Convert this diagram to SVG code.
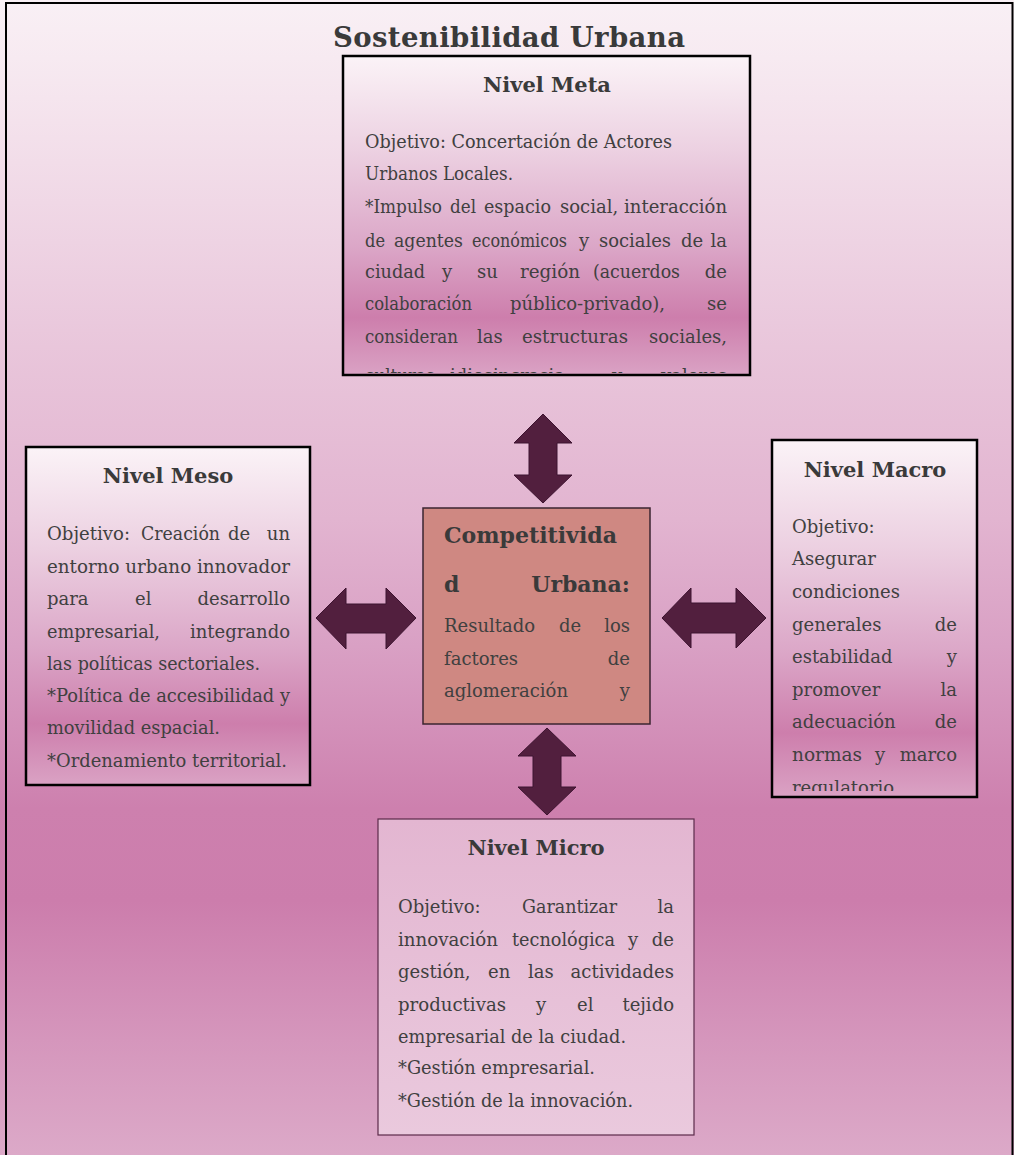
<svg xmlns="http://www.w3.org/2000/svg" width="1014" height="1155" viewBox="0 0 1014 1155">
  <defs>
    <linearGradient id="bg" x1="0" y1="0" x2="0" y2="1">
      <stop offset="0" stop-color="#f9f0f5"/>
      <stop offset="0.05" stop-color="#f7eaf1"/>
      <stop offset="0.3" stop-color="#e9c6db"/>
      <stop offset="0.45" stop-color="#e2b4d0"/>
      <stop offset="0.56" stop-color="#d9a0c4"/>
      <stop offset="0.7" stop-color="#cd80ae"/>
      <stop offset="0.78" stop-color="#cc7dac"/>
      <stop offset="0.9" stop-color="#d596bc"/>
      <stop offset="1" stop-color="#dca9c8"/>
    </linearGradient>
    <linearGradient id="boxFill" x1="0" y1="0" x2="0" y2="1">
      <stop offset="0" stop-color="#fbf3f7"/>
      <stop offset="0.3" stop-color="#ecd0e1"/>
      <stop offset="0.6" stop-color="#dba6c7"/>
      <stop offset="0.82" stop-color="#cd7eac"/>
      <stop offset="1" stop-color="#daa2c4"/>
    </linearGradient>
    <linearGradient id="microFill" x1="0" y1="0" x2="0" y2="1">
      <stop offset="0" stop-color="#e3b6d1"/>
      <stop offset="1" stop-color="#eac9dd"/>
    </linearGradient>
    <clipPath id="clipMeta"><rect x="345" y="58" width="403" height="315"/></clipPath>
    <clipPath id="clipMacro"><rect x="774" y="442" width="201" height="349"/></clipPath>
  </defs>
  <style>
    text { font-family: "DejaVu Serif", "Liberation Serif", serif; fill: #404040; }
    .title { font-size: 27.5px; font-weight: bold; fill: #3a3a3a; }
    .head { font-size: 21px; font-weight: bold; fill: #3a3a3a; text-anchor: middle; }
    .bhead { font-size: 22px; font-weight: bold; fill: #3a3a3a; }
    .body { font-size: 18px; }
    .end { text-anchor: end; }
    .frame { fill: none; stroke: #000; stroke-width: 2; }
    .box { fill: url(#boxFill); stroke: #000; stroke-width: 2.5; }
    .arrow { fill: #521f3e; stroke: #3d1430; stroke-width: 1; }
  </style>

  <!-- page background and outer frame -->
  <rect x="0" y="0" width="1014" height="1155" fill="url(#bg)"/>
  <path class="frame" d="M6,1155 V3 H1012.5 V1155"/>

  <g id="title">
    <text class="title" x="509" y="47" text-anchor="middle" textLength="352">Sostenibilidad Urbana</text>
  </g>

  <!-- double-headed arrows between the centre and each level -->
  <g id="connectors">
    <polygon class="arrow" points="543,414 572,443 557,443 557,475 572,475 543,503 514,475 529,475 529,443 514,443"/>
    <polygon class="arrow" points="547,728 576,756 561,756 561,787 576,787 547,815 518,787 533,787 533,756 518,756"/>
    <polygon class="arrow" points="316,618 346,588 346,604 386,604 386,588 416,618 386,649 386,633 346,633 346,649"/>
    <polygon class="arrow" points="662,618 691,588 691,603 736,603 736,588 766,618 736,648 736,633 691,633 691,648"/>
  </g>

  <!-- justified lines: every word is placed and sized on its own -->
  <g id="node-meta">
    <rect class="box" x="343" y="56" width="407" height="319"/>
    <text class="head" x="547" y="92">Nivel Meta</text>
    <g class="body" clip-path="url(#clipMeta)">
      <text x="365" y="148" textLength="307" lengthAdjust="spacingAndGlyphs">Objetivo: Concertación de Actores</text>
      <text x="365" y="180" textLength="148" lengthAdjust="spacingAndGlyphs">Urbanos Locales.</text>
      <text x="365" y="213" textLength="77" lengthAdjust="spacingAndGlyphs">*Impulso</text>
      <text x="450" y="213" textLength="26" lengthAdjust="spacingAndGlyphs">del</text>
      <text x="484" y="213" textLength="67" lengthAdjust="spacingAndGlyphs">espacio</text>
      <text x="560" y="213">social,</text>
      <text class="end" x="727" y="213">interacción</text>
      <text x="365" y="247" textLength="20" lengthAdjust="spacingAndGlyphs">de</text>
      <text x="394" y="247" textLength="69" lengthAdjust="spacingAndGlyphs">agentes</text>
      <text x="472" y="247" textLength="95" lengthAdjust="spacingAndGlyphs">económicos</text>
      <text x="579" y="247">y</text>
      <text x="599" y="247" textLength="72" lengthAdjust="spacingAndGlyphs">sociales</text>
      <text x="681" y="247">de</text>
      <text class="end" x="727" y="247">la</text>
      <text x="365" y="278" textLength="60" lengthAdjust="spacingAndGlyphs">ciudad</text>
      <text x="442" y="278">y</text>
      <text x="477" y="278">su</text>
      <text x="520" y="278" textLength="60" lengthAdjust="spacingAndGlyphs">región</text>
      <text x="593" y="278" textLength="87" lengthAdjust="spacingAndGlyphs">(acuerdos</text>
      <text class="end" x="727" y="278">de</text>
      <text x="365" y="310" textLength="107" lengthAdjust="spacingAndGlyphs">colaboración</text>
      <text x="510" y="310">público-privado),</text>
      <text class="end" x="727" y="310">se</text>
      <text x="365" y="343" textLength="93" lengthAdjust="spacingAndGlyphs">consideran</text>
      <text x="477" y="343">las</text>
      <text x="522" y="343" textLength="106" lengthAdjust="spacingAndGlyphs">estructuras</text>
      <text class="end" x="727" y="343">sociales,</text>
      <text x="365" y="382" textLength="75" lengthAdjust="spacingAndGlyphs">culturas,</text>
      <text x="450" y="382" textLength="115" lengthAdjust="spacingAndGlyphs">idiosincrasia</text>
      <text x="612" y="382">y</text>
      <text class="end" x="727" y="382">valores</text>
    </g>
  </g>

  <g id="node-meso">
    <rect class="box" x="26" y="447" width="284" height="338"/>
    <text class="head" x="168" y="483">Nivel Meso</text>
    <g class="body">
      <text x="47" y="540" textLength="83" lengthAdjust="spacingAndGlyphs">Objetivo:</text>
      <text x="141" y="540" textLength="79" lengthAdjust="spacingAndGlyphs">Creación</text>
      <text x="228" y="540">de</text>
      <text class="end" x="290" y="540">un</text>
      <text x="47" y="573" textLength="243" lengthAdjust="spacingAndGlyphs">entorno urbano innovador</text>
      <text x="47" y="605">para</text>
      <text x="135" y="605">el</text>
      <text class="end" x="290" y="605">desarrollo</text>
      <text x="47" y="638" textLength="113" lengthAdjust="spacingAndGlyphs">empresarial,</text>
      <text class="end" x="290" y="638">integrando</text>
      <text x="47" y="670" textLength="213" lengthAdjust="spacingAndGlyphs">las políticas sectoriales.</text>
      <text x="47" y="702" textLength="243" lengthAdjust="spacingAndGlyphs">*Política de accesibilidad y</text>
      <text x="47" y="734" textLength="173" lengthAdjust="spacingAndGlyphs">movilidad espacial.</text>
      <text x="47" y="767" textLength="240" lengthAdjust="spacingAndGlyphs">*Ordenamiento territorial.</text>
    </g>
  </g>

  <g id="node-center">
    <rect x="423" y="508" width="227" height="216" fill="#cf8882" stroke="#3b2530" stroke-width="1.5"/>
    <text class="bhead" x="444" y="543" textLength="173" lengthAdjust="spacingAndGlyphs">Competitivida</text>
    <text class="bhead" x="444" y="592">d</text>
    <text class="bhead end" x="630" y="592">Urbana:</text>
    <g class="body">
      <text x="444" y="632" textLength="91" lengthAdjust="spacingAndGlyphs">Resultado</text>
      <text x="559" y="632">de</text>
      <text class="end" x="630" y="632">los</text>
      <text x="444" y="665">factores</text>
      <text class="end" x="630" y="665">de</text>
      <text x="444" y="697" textLength="124" lengthAdjust="spacingAndGlyphs">aglomeración</text>
      <text class="end" x="630" y="697">y</text>
    </g>
  </g>

  <g id="node-macro">
    <rect class="box" x="772" y="440" width="205" height="357"/>
    <text class="head" x="875" y="477">Nivel Macro</text>
    <g class="body" clip-path="url(#clipMacro)">
      <text x="792" y="533">Objetivo:</text>
      <text x="792" y="565">Asegurar</text>
      <text x="792" y="598">condiciones</text>
      <text x="792" y="631">generales</text>
      <text class="end" x="957" y="631">de</text>
      <text x="792" y="663">estabilidad</text>
      <text class="end" x="957" y="663">y</text>
      <text x="792" y="696">promover</text>
      <text class="end" x="957" y="696">la</text>
      <text x="792" y="728">adecuación</text>
      <text class="end" x="957" y="728">de</text>
      <text x="792" y="761" textLength="70" lengthAdjust="spacingAndGlyphs">normas</text>
      <text x="875" y="761">y</text>
      <text class="end" x="957" y="761">marco</text>
      <text x="792" y="794">regulatorio</text>
    </g>
  </g>

  <g id="node-micro">
    <rect x="378" y="819" width="316" height="316" fill="url(#microFill)" stroke="#5b2a4a" stroke-width="1.2"/>
    <text class="head" x="536" y="855">Nivel Micro</text>
    <g class="body">
      <text x="398" y="913">Objetivo:</text>
      <text x="522" y="913" textLength="95" lengthAdjust="spacingAndGlyphs">Garantizar</text>
      <text class="end" x="674" y="913">la</text>
      <text x="398" y="946" textLength="100" lengthAdjust="spacingAndGlyphs">innovación</text>
      <text x="512" y="946" textLength="103" lengthAdjust="spacingAndGlyphs">tecnológica</text>
      <text x="628" y="946">y</text>
      <text class="end" x="674" y="946">de</text>
      <text x="398" y="978">gestión,</text>
      <text x="488" y="978">en</text>
      <text x="528" y="978">las</text>
      <text class="end" x="674" y="978">actividades</text>
      <text x="398" y="1011" textLength="108" lengthAdjust="spacingAndGlyphs">productivas</text>
      <text x="536" y="1011">y</text>
      <text x="577" y="1011">el</text>
      <text class="end" x="674" y="1011">tejido</text>
      <text x="398" y="1043" textLength="228" lengthAdjust="spacingAndGlyphs">empresarial de la ciudad.</text>
      <text x="398" y="1074" textLength="197" lengthAdjust="spacingAndGlyphs">*Gestión empresarial.</text>
      <text x="398" y="1107" textLength="235" lengthAdjust="spacingAndGlyphs">*Gestión de la innovación.</text>
    </g>
  </g>
</svg>
